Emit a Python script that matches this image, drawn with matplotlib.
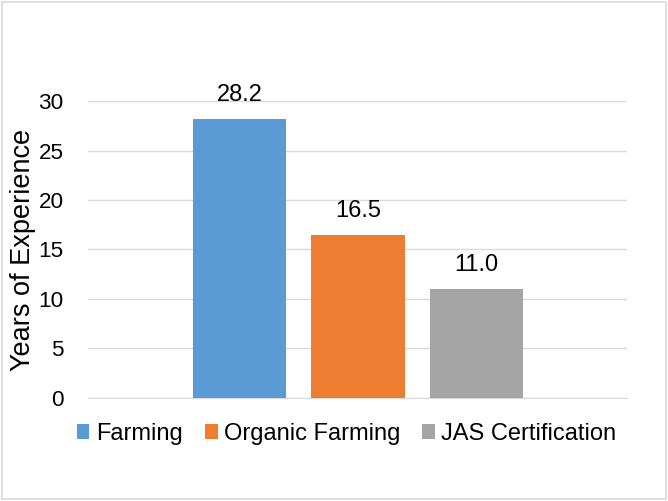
import matplotlib
matplotlib.use('Agg')
import matplotlib.pyplot as plt
from matplotlib.patches import Rectangle

series = ['Farming', 'Organic Farming', 'JAS Certification']
values = [28.2, 16.5, 11.0]
colors = ['#5B9BD5', '#ED7D31', '#A5A5A5']
yticks = [0, 5, 10, 15, 20, 25, 30]

plt.rcParams['font.family'] = ['Liberation Sans', 'DejaVu Sans']

fig = plt.figure(figsize=(6.68, 5.01), dpi=100)
fig.patches.append(Rectangle((0.003, 0.003), 0.994, 0.994, transform=fig.transFigure,
                             fill=False, edgecolor='#D9D9D9', linewidth=1.2))

ax = fig.add_axes([0.1317, 0.2056, 0.807, 0.5928])

x = list(range(len(series)))
bars = ax.bar(x, values, width=0.79, color=colors, label=series, zorder=3)
for xi, v in zip(x, values):
    ax.annotate(f'{v:.1f}', (xi, v), xytext=(0, 13), textcoords='offset points',
                ha='center', va='baseline', fontsize=17)

ax.set_xlim(-1.28, 3.27)
ax.set_ylim(0, 30)
ax.set_yticks(yticks)
ax.set_xticks([])
ax.tick_params(axis='y', length=0, labelsize=16.2, pad=17.5)
ax.grid(axis='y', color='#D9D9D9', linewidth=1, zorder=0)
for side in ['top', 'right', 'left']:
    ax.spines[side].set_visible(False)
ax.spines['bottom'].set_color('#D9D9D9')
ax.spines['bottom'].set_zorder(1)

ax.set_ylabel('Years of Experience', fontsize=19.5)
ax.yaxis.set_label_coords(-0.096, 0.5)

ax.legend(handles=bars, labels=series, loc='center', bbox_to_anchor=(0.4796, -0.121),
          ncol=3, frameon=False, fontsize=17, handlelength=0.55, handleheight=0.55,
          handletextpad=0.26, columnspacing=0.94)

fig.savefig('out.png', dpi=100)
